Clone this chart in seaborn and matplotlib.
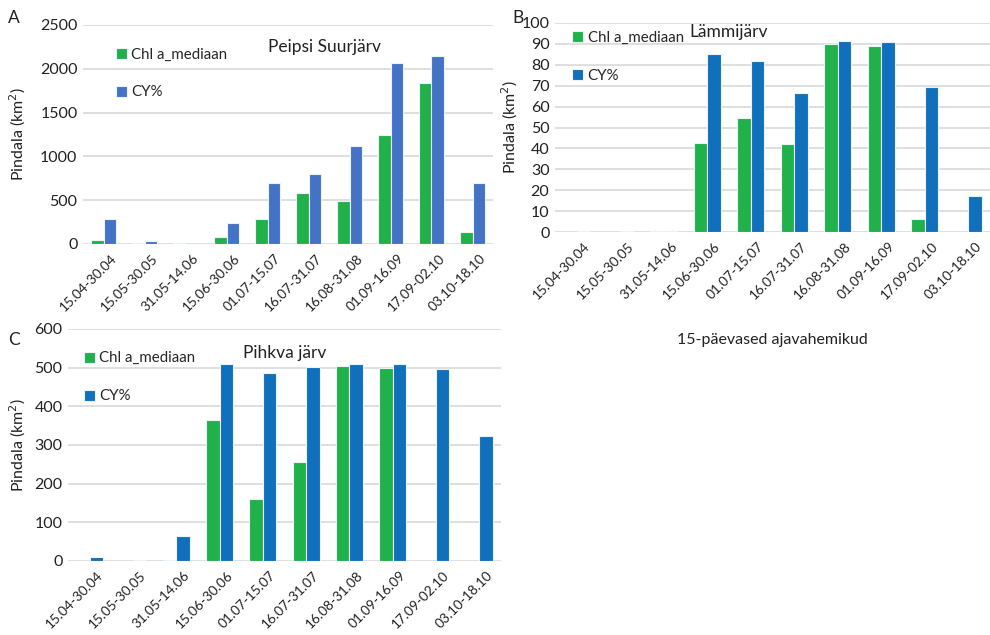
import matplotlib
matplotlib.use("Agg")
import matplotlib.pyplot as plt
import matplotlib.transforms as mtransforms
import seaborn as sns
import pandas as pd

periods = ["15.04-30.04", "15.05-30.05", "31.05-14.06", "15.06-30.06", "01.07-15.07",
           "16.07-31.07", "16.08-31.08", "01.09-16.09", "17.09-02.10", "03.10-18.10"]
series_names = ["Chl a_mediaan", "CY%"]

peipsi_chl = [45, 8, 8, 76, 282, 579, 494, 1244, 1838, 134]
peipsi_cy = [282, 35, 0, 243, 700, 802, 1119, 2063, 2146, 693]

lammi_chl = [0, 0, 0.7, 42.4, 54.7, 42.1, 89.9, 89.0, 6.2, 0]
lammi_cy = [0.7, 0.7, 0.7, 85.1, 81.6, 66.7, 91.2, 90.9, 69.4, 17.1]

pihkva_chl = [0, 0, 3.5, 365, 161, 256, 504, 500, 0, 0]
pihkva_cy = [11, 3.5, 64, 509, 485, 502, 509, 509, 496, 323]

green = "#21B14B"
blue_a = "#4472C4"
blue_bc = "#1170BC"

sns.set_theme(style="white")
plt.rcParams['font.family'] = ['Lato', 'DejaVu Sans']

fig = plt.figure(figsize=(9.9, 6.35), dpi=100)

def fpos(l, r, t, b):
    W, H = 990, 635
    return [l / W, 1 - b / H, (r - l) / W, (b - t) / H]

panels = [
    dict(pos=fpos(83, 493, 25, 244), chl=peipsi_chl, cy=peipsi_cy, blue=blue_a,
         ylim=2500, step=500, title="Peipsi Suurjärv", tx=0.59, ty=0.90,
         leg=(0.065, 0.925), ylx=18, letter="A", lx=8, ly=18),
    dict(pos=fpos(555, 990, 23, 232), chl=lammi_chl, cy=lammi_cy, blue=blue_bc,
         ylim=100, step=10, title="Lämmijärv", tx=0.40, ty=0.958,
         leg=(0.025, 0.99), ylx=510, letter="B", lx=512, ly=18),
    dict(pos=fpos(68, 501, 329, 561), chl=pihkva_chl, cy=pihkva_cy, blue=blue_bc,
         ylim=600, step=100, title="Pihkva järv", tx=0.50, ty=0.895,
         leg=(0.022, 0.93), ylx=18, letter="C", lx=8, ly=340),
]

for p in panels:
    ax = fig.add_axes(p["pos"])
    df = pd.DataFrame({
        "period": periods * 2,
        "value": list(p["chl"]) + list(p["cy"]),
        "series": [series_names[0]] * len(periods) + [series_names[1]] * len(periods),
    })
    sns.barplot(data=df, x="period", y="value", hue="series", ax=ax,
                palette=[green, p["blue"]], width=0.62, saturation=1,
                edgecolor="#EAF2FA", linewidth=0.8, legend=True)
    ax.set_xlim(-0.5, len(periods) - 0.5)
    ax.set_ylim(0, p["ylim"])
    ax.set_yticks(range(0, p["ylim"] + 1, p["step"]))
    ax.grid(axis="y", color="#D9D9D9", linewidth=1.2)
    ax.set_axisbelow(True)
    for s in ax.spines.values():
        s.set_visible(False)
    ax.tick_params(axis="both", length=0, labelsize=11.5, colors="#222222", pad=4)
    ax.set_xticks(range(len(periods)))
    ax.set_xticklabels(periods, rotation=45, ha="right", rotation_mode="anchor",
                       fontsize=9.8)
    offset = mtransforms.ScaledTranslation(5 / 72, -2 / 72, fig.dpi_scale_trans)
    for lbl in ax.get_xticklabels():
        lbl.set_transform(lbl.get_transform() + offset)
    ax.set_xlabel("")
    ax.set_ylabel("")
    ax.text(p["tx"], p["ty"], p["title"], transform=ax.transAxes, ha="center",
            va="center", fontsize=12.5, color="#222222")
    h, l = ax.get_legend_handles_labels()
    ax.legend(h, l, loc="upper left", bbox_to_anchor=p["leg"], frameon=False,
              fontsize=10.8, labelspacing=1.6, handlelength=0.75, handleheight=0.75,
              handletextpad=0.3, borderaxespad=0)
    cy = 635 - (p["pos"][1] + p["pos"][3] / 2) * 635
    fig.text(p["ylx"] / 990, 1 - cy / 635, "Pindala (km$^2$)", rotation=90,
             ha="center", va="center", fontsize=11.5, color="#222222")
    fig.text(p["lx"] / 990, 1 - p["ly"] / 635, p["letter"], fontsize=12.5,
             ha="left", va="center", color="#222222")

fig.text(772 / 990, 1 - 340 / 635, "15-päevased ajavahemikud", ha="center",
         va="center", fontsize=11.5, color="#222222")

fig.savefig("out.png", dpi=100, facecolor="white")
